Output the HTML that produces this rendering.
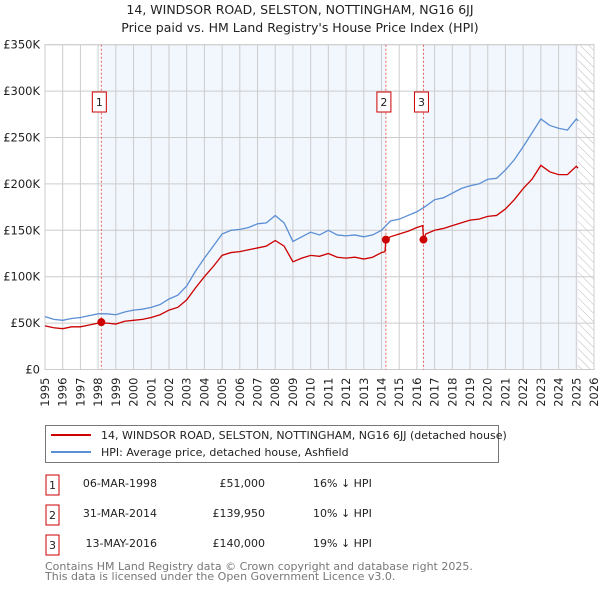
<!DOCTYPE html>
<html><head><meta charset="utf-8"><style>
body{margin:0;background:#fff;font-family:"Liberation Sans","DejaVu Sans",sans-serif;}
svg text{font-family:"DejaVu Sans","Liberation Sans",sans-serif;}
</style></head><body>
<svg id="c" width="600" height="590" viewBox="0 0 600 590" xmlns="http://www.w3.org/2000/svg">
<defs><pattern id="hatch" width="6" height="6" patternUnits="userSpaceOnUse" patternTransform="rotate(-45)"><line x1="0" y1="0" x2="0" y2="6" stroke="#bbb" stroke-width="1"/></pattern></defs>
<text x="300" y="14" text-anchor="middle" font-size="12.5" fill="#222">14, WINDSOR ROAD, SELSTON, NOTTINGHAM, NG16 6JJ</text>
<text x="300" y="32" text-anchor="middle" font-size="12.5" fill="#222">Price paid vs. HM Land Registry's House Price Index (HPI)</text>
<g id="plot"></g>
<g>
<rect x="45.5" y="425.5" width="453" height="37" fill="#fff" stroke="#777"/>
<line x1="51" y1="435" x2="91" y2="435" stroke="#cc0000" stroke-width="2"/>
<text x="101" y="439" font-size="11" fill="#222">14, WINDSOR ROAD, SELSTON, NOTTINGHAM, NG16 6JJ (detached house)</text>
<line x1="51" y1="452" x2="91" y2="452" stroke="#5b8fd4" stroke-width="2"/>
<text x="101" y="456" font-size="11" fill="#222">HPI: Average price, detached house, Ashfield</text>
</g>
<g font-size="11" fill="#222">
<rect x="46" y="475" width="13" height="20" fill="#fff" stroke="#cc0000"/><text x="52.5" y="489" text-anchor="middle">1</text>
<text x="157" y="487" text-anchor="end">06-MAR-1998</text><text x="265" y="487" text-anchor="end">£51,000</text><text x="313" y="487">16% ↓ HPI</text>
<rect x="46" y="505" width="13" height="20" fill="#fff" stroke="#cc0000"/><text x="52.5" y="519" text-anchor="middle">2</text>
<text x="157" y="517" text-anchor="end">31-MAR-2014</text><text x="265" y="517" text-anchor="end">£139,950</text><text x="313" y="517">10% ↓ HPI</text>
<rect x="46" y="535" width="13" height="20" fill="#fff" stroke="#cc0000"/><text x="52.5" y="549" text-anchor="middle">3</text>
<text x="157" y="547" text-anchor="end">13-MAY-2016</text><text x="265" y="547" text-anchor="end">£140,000</text><text x="313" y="547">19% ↓ HPI</text>
</g>
<text x="45" y="570" font-size="11" fill="#777">Contains HM Land Registry data © Crown copyright and database right 2025.</text>
<text x="45" y="580" font-size="11" fill="#777">This data is licensed under the Open Government Licence v3.0.</text>
</svg>
<script>
const hpiDates=[1995,1995.5,1996,1996.5,1997,1997.5,1998,1998.5,1999,1999.5,2000,2000.5,2001,2001.5,2002,2002.5,2003,2003.5,2004,2004.5,2005,2005.5,2006,2006.5,2007,2007.5,2008,2008.5,2009,2009.5,2010,2010.5,2011,2011.5,2012,2012.5,2013,2013.5,2014,2014.5,2015,2015.5,2016,2016.5,2017,2017.5,2018,2018.5,2019,2019.5,2020,2020.5,2021,2021.5,2022,2022.5,2023,2023.5,2024,2024.5,2025,2025.1];
const hpiValues=[57,54,53,55,56,58,60,60,59,62,64,65,67,70,76,80,90,106,120,133,146,150,151,153,157,158,166,158,138,143,148,145,150,145,144,145,143,145,150,160,162,166,170,176,183,185,190,195,198,200,205,206,215,226,240,255,270,263,260,258,270,268];
const redDates=[1995,1995.5,1996,1996.5,1997,1997.5,1998,1998.5,1999,1999.5,2000,2000.5,2001,2001.5,2002,2002.5,2003,2003.5,2004,2004.5,2005,2005.5,2006,2006.5,2007,2007.5,2008,2008.5,2009,2009.5,2010,2010.5,2011,2011.5,2012,2012.5,2013,2013.5,2014,2014.2,2014.25,2014.5,2015,2015.5,2016,2016.33,2016.37,2016.5,2017,2017.5,2018,2018.5,2019,2019.5,2020,2020.5,2021,2021.5,2022,2022.5,2023,2023.5,2024,2024.5,2025,2025.1];
const redValues=[47,45,44,46,46,48,50,50,49,52,53,54,56,59,64,67,75,88,100,111,123,126,127,129,131,133,139,133,116,120,123,122,125,121,120,121,119,121,126,127,140,143,146,149,153,155,140,146,150,152,155,158,161,162,165,166,173,183,195,205,220,213,210,210,219,217];
const saleDates=[1998.18,2014.25,2016.37];
const saleValues=[51,139.95,140];
const saleLabels=["1","2","3"];
const yTicks=[0,50,100,150,200,250,300,350];
const yTickLabels=["£0","£50K","£100K","£150K","£200K","£250K","£300K","£350K"];
const xYears=[1995,1996,1997,1998,1999,2000,2001,2002,2003,2004,2005,2006,2007,2008,2009,2010,2011,2012,2013,2014,2015,2016,2017,2018,2019,2020,2021,2022,2023,2024,2025,2026];

const X0=45,X1=594,Y0=369.5,Y1=44.7;
const xs=t=>X0+(t-1995)/(2026-1995)*(X1-X0);
const ys=v=>Y0-v/350*(Y0-Y1);
const NS="http://www.w3.org/2000/svg";
const g=document.getElementById('plot');
function mk(tag,attrs){const e=document.createElementNS(NS,tag);for(const k in attrs)e.setAttribute(k,attrs[k]);g.appendChild(e);return e;}
let e;
e=mk('rect',{x:xs(saleDates[0]),y:Y1,width:xs(saleDates[1])-xs(saleDates[0]),height:Y0-Y1,fill:'#f2f6fd'});


e=mk('rect',{x:xs(saleDates[2]),y:Y1,width:xs(2025.1)-xs(saleDates[2]),height:Y0-Y1,fill:'#f2f6fd'});


e=mk('rect',{x:xs(2025.1),y:Y1,width:X1-xs(2025.1),height:Y0-Y1,fill:'url(#hatch)'});


xYears.forEach(y=>{e=mk('line',{x1:xs(y),x2:xs(y),y1:Y1,y2:Y0,stroke:'#ccc','stroke-width':1});


const lx=xs(y)+4,ly=Y0+8;
e=mk('text',{x:lx,y:ly,'text-anchor':'end','font-size':'11.5',fill:'#222',transform:'rotate(-90 '+lx+' '+ly+')'});e.textContent=y;

});
yTicks.forEach((v,i)=>{e=mk('line',{x1:X0,x2:X1,y1:ys(v),y2:ys(v),stroke:'#ccc','stroke-width':1});


e=mk('text',{x:X0-5,y:ys(v)+4,'text-anchor':'end','font-size':'11.5',fill:'#222'});e.textContent=yTickLabels[i];

});
e=mk('rect',{x:X0,y:Y1,width:X1-X0,height:Y0-Y1,fill:'none',stroke:'#ccc'});


saleDates.forEach((d,i)=>{e=mk('line',{x1:xs(d),x2:xs(d),y1:Y1,y2:Y0,stroke:'#e06060','stroke-dasharray':'2,2','stroke-width':1});

});
e=mk('polyline',{points:hpiDates.map((d,i)=>xs(d)+','+ys(hpiValues[i])).join(' '),fill:'none',stroke:'#5b8fd4','stroke-width':1.3});


e=mk('polyline',{points:redDates.map((d,i)=>xs(d)+','+ys(redValues[i])).join(' '),fill:'none',stroke:'#cc0000','stroke-width':1.3});


saleDates.forEach((d,i)=>{e=mk('circle',{cx:xs(d),cy:ys(saleValues[i]),r:4,fill:'#cc0000'});


e=mk('rect',{x:xs(d)-9,y:92,width:14,height:20,fill:'#fff',stroke:'#cc0000'});


e=mk('text',{x:xs(d)-2,y:106,'text-anchor':'middle','font-size':'11',fill:'#222'});e.textContent=saleLabels[i];

});
</script>
</body></html>
